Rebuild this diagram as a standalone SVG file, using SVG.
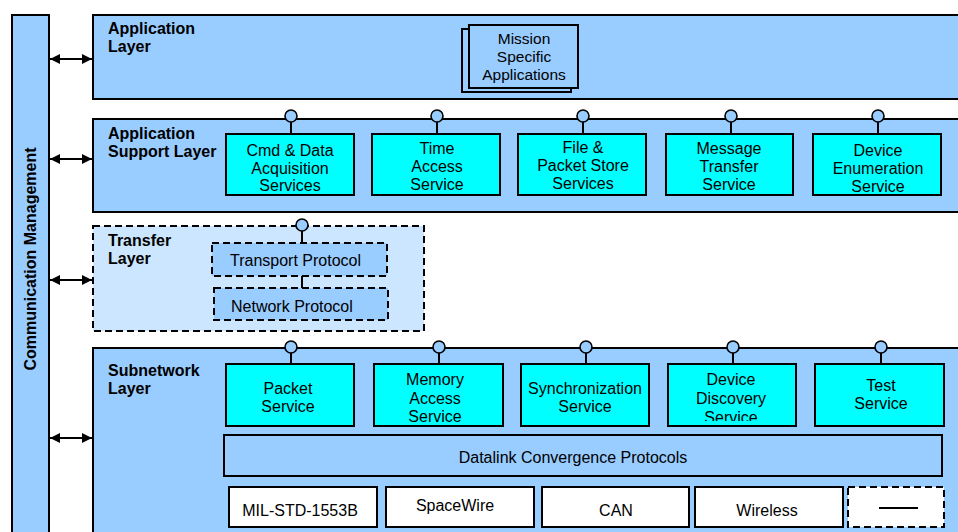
<svg xmlns="http://www.w3.org/2000/svg" width="958" height="532" viewBox="0 0 958 532">
  <style>
    .layer { fill: #99ccff; stroke: #000; stroke-width: 2; }
    .dashed { stroke-dasharray: 7 4; }
    .svc { fill: #00ffff; stroke: #000; stroke-width: 2; }
    .proto { fill: #99ccff; stroke: #000; stroke-width: 2; }
    .phy { fill: #fff; stroke: #000; stroke-width: 2; }
    .port { fill: #99ccff; stroke: #000; stroke-width: 1.6; }
    .stem { stroke: #000; stroke-width: 2; }
    .lbl { font-family: "Liberation Sans", Arial, sans-serif; font-weight: bold; font-size: 16px; fill: #000; }
    .txt { font-family: "Liberation Sans", Arial, sans-serif; font-size: 16px; fill: #000; text-anchor: middle; }
    .txt-s { font-family: "Liberation Sans", Arial, sans-serif; font-size: 15.5px; fill: #000; text-anchor: middle; }
    .txt-l { font-family: "Liberation Sans", Arial, sans-serif; font-size: 16px; fill: #000; }
    .arrow { stroke: #000; stroke-width: 2; fill: none; marker-start: url(#head); marker-end: url(#head); }
  </style>
  <defs>
    <marker id="head" viewBox="0 0 10 10" refX="10" refY="5" markerWidth="5" markerHeight="5" orient="auto-start-reverse" markerUnits="strokeWidth">
      <path d="M0,0 L10,5 L0,10 z" fill="#000"/>
    </marker>
    <clipPath id="clip-discovery">
      <rect x="669" y="365" width="126" height="56"/>
    </clipPath>
  </defs>

  <!-- Communication management column -->
  <g id="comm-mgmt">
    <rect class="layer" x="12" y="15" width="37" height="530"/>
    <text class="lbl" transform="translate(36,259) rotate(-90)" text-anchor="middle">Communication Management</text>
  </g>

  <!-- Application layer -->
  <g id="application-layer">
    <rect class="layer" x="93" y="15" width="880" height="84"/>
    <text class="lbl" x="108" y="34">Application</text>
    <text class="lbl" x="108" y="52">Layer</text>
  </g>
  <g id="mission-apps">
    <rect fill="#99ccff" stroke="#000" stroke-width="2" x="462" y="29" width="109" height="63"/>
    <rect fill="#99ccff" stroke="#000" stroke-width="2" x="469" y="25" width="109" height="63"/>
    <text class="txt-s" x="524" y="44">Mission</text>
    <text class="txt-s" x="524" y="62">Specific</text>
    <text class="txt-s" x="524" y="80">Applications</text>
  </g>

  <!-- Application support layer -->
  <g id="app-support-layer">
    <rect class="layer" x="93" y="119" width="880" height="93"/>
    <text class="lbl" x="108" y="139">Application</text>
    <text class="lbl" x="108" y="157">Support Layer</text>
  </g>
  <g id="cmd-data">
    <line class="stem" x1="291" y1="122" x2="291" y2="134"/>
    <circle class="port" cx="291" cy="116" r="6"/>
    <rect class="svc" x="226" y="134" width="128" height="61"/>
    <text class="txt" x="290" y="156">Cmd &amp; Data</text>
    <text class="txt" x="290" y="174">Acquisition</text>
    <text class="txt" x="290" y="191">Services</text>
  </g>
  <g id="time-access">
    <line class="stem" x1="437" y1="122" x2="437" y2="134"/>
    <circle class="port" cx="437" cy="116" r="6"/>
    <rect class="svc" x="372" y="134" width="128" height="61"/>
    <text class="txt" x="437" y="154">Time</text>
    <text class="txt" x="437" y="172">Access</text>
    <text class="txt" x="437" y="190">Service</text>
  </g>
  <g id="file-packet-store">
    <line class="stem" x1="583" y1="122" x2="583" y2="134"/>
    <circle class="port" cx="583" cy="116" r="6"/>
    <rect class="svc" x="518" y="134" width="128" height="61"/>
    <text class="txt" x="583" y="153">File &amp;</text>
    <text class="txt" x="583" y="171">Packet Store</text>
    <text class="txt" x="583" y="189">Services</text>
  </g>
  <g id="message-transfer">
    <line class="stem" x1="731" y1="122" x2="731" y2="134"/>
    <circle class="port" cx="731" cy="116" r="6"/>
    <rect class="svc" x="666" y="134" width="127" height="61"/>
    <text class="txt" x="729" y="154">Message</text>
    <text class="txt" x="729" y="172">Transfer</text>
    <text class="txt" x="729" y="190">Service</text>
  </g>
  <g id="device-enumeration">
    <line class="stem" x1="878" y1="122" x2="878" y2="134"/>
    <circle class="port" cx="878" cy="116" r="6"/>
    <rect class="svc" x="813" y="134" width="128" height="61"/>
    <text class="txt" x="878" y="156">Device</text>
    <text class="txt" x="878" y="174">Enumeration</text>
    <text class="txt" x="878" y="192">Service</text>
  </g>

  <!-- Transfer layer -->
  <g id="transfer-layer">
    <rect class="dashed" fill="#cce6ff" stroke="#000" stroke-width="2" x="93" y="226" width="331" height="105"/>
    <text class="lbl" x="108" y="246">Transfer</text>
    <text class="lbl" x="108" y="264">Layer</text>
  </g>
  <g id="transport-protocol">
    <line class="stem" x1="302" y1="231" x2="302" y2="243"/>
    <circle class="port" cx="302" cy="225" r="6"/>
    <rect class="proto dashed" x="212" y="243" width="175" height="33"/>
    <text class="txt-l" x="230" y="266">Transport Protocol</text>
  </g>
  <g id="network-protocol">
    <line class="stem" x1="302" y1="276" x2="302" y2="288"/>
    <rect class="proto dashed" x="214" y="288" width="174" height="32"/>
    <text class="txt-l" x="231" y="312">Network Protocol</text>
  </g>

  <!-- Subnetwork layer -->
  <g id="subnetwork-layer">
    <rect class="layer" x="93" y="348" width="880" height="200"/>
    <text class="lbl" x="108" y="376">Subnetwork</text>
    <text class="lbl" x="108" y="394">Layer</text>
  </g>
  <g id="packet-service">
    <line class="stem" x1="291" y1="353" x2="291" y2="364"/>
    <circle class="port" cx="291" cy="347" r="6"/>
    <rect class="svc" x="226" y="364" width="128" height="62"/>
    <text class="txt" x="288" y="394">Packet</text>
    <text class="txt" x="288" y="412">Service</text>
  </g>
  <g id="memory-access">
    <line class="stem" x1="439" y1="353" x2="439" y2="364"/>
    <circle class="port" cx="439" cy="347" r="6"/>
    <rect class="svc" x="374" y="364" width="129" height="62"/>
    <text class="txt" x="435" y="385">Memory</text>
    <text class="txt" x="435" y="404">Access</text>
    <text class="txt" x="435" y="422">Service</text>
  </g>
  <g id="synchronization">
    <line class="stem" x1="586" y1="353" x2="586" y2="364"/>
    <circle class="port" cx="586" cy="347" r="6"/>
    <rect class="svc" x="521" y="364" width="128" height="62"/>
    <text class="txt" x="585" y="394">Synchronization</text>
    <text class="txt" x="585" y="412">Service</text>
  </g>
  <g id="device-discovery">
    <line class="stem" x1="733" y1="353" x2="733" y2="364"/>
    <circle class="port" cx="733" cy="347" r="6"/>
    <rect class="svc" x="668" y="364" width="128" height="62"/>
    <g clip-path="url(#clip-discovery)">
      <text class="txt" x="731" y="385">Device</text>
      <text class="txt" x="731" y="404">Discovery</text>
      <text class="txt" x="731" y="423">Service</text>
    </g>
  </g>
  <g id="test-service">
    <line class="stem" x1="881" y1="353" x2="881" y2="364"/>
    <circle class="port" cx="881" cy="347" r="6"/>
    <rect class="svc" x="815" y="364" width="129" height="62"/>
    <text class="txt" x="881" y="391">Test</text>
    <text class="txt" x="881" y="409">Service</text>
  </g>
  <g id="datalink-convergence">
    <rect class="proto" x="224" y="435" width="718" height="41"/>
    <text class="txt" x="573" y="463">Datalink Convergence Protocols</text>
  </g>
  <g id="mil-std-1553b">
    <rect class="phy" x="229" y="487" width="148" height="40"/>
    <text class="txt" x="300" y="516">MIL-STD-1553B</text>
  </g>
  <g id="spacewire">
    <rect class="phy" x="386" y="487" width="148" height="40"/>
    <text class="txt" x="455" y="511">SpaceWire</text>
  </g>
  <g id="can">
    <rect class="phy" x="542" y="487" width="147" height="40"/>
    <text class="txt" x="616" y="516">CAN</text>
  </g>
  <g id="wireless">
    <rect class="phy" x="695" y="487" width="148" height="40"/>
    <text class="txt" x="767" y="516">Wireless</text>
  </g>
  <g id="other-link">
    <rect class="phy dashed" x="848" y="487" width="96" height="40"/>
    <line class="stem" x1="879" y1="508" x2="918" y2="508"/>
  </g>

  <!-- Management interfaces -->
  <g id="connectors">
    <line class="arrow" x1="50" y1="59" x2="92" y2="59"/>
    <line class="arrow" x1="50" y1="159" x2="92" y2="159"/>
    <line class="arrow" x1="50" y1="280" x2="92" y2="280"/>
    <line class="arrow" x1="50" y1="438" x2="92" y2="438"/>
  </g>
</svg>
